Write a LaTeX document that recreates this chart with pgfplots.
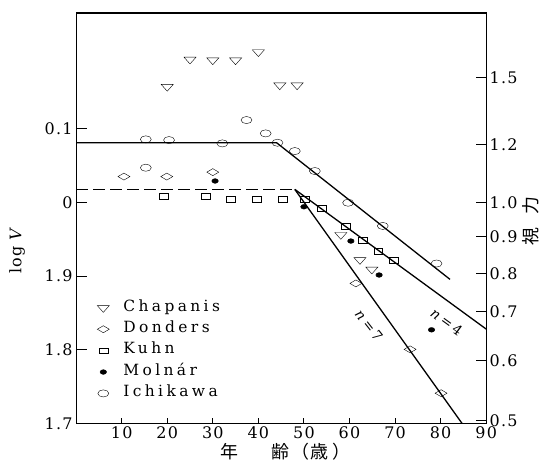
\documentclass[border=0pt]{standalone}
\usepackage{pgfplots}
\pgfplotsset{compat=1.18}
\usepackage{pgfplotstable}
\usepackage{fontspec}
\setmainfont{DejaVu Serif}[LetterSpace=8]
\newfontfamily\legfont{DejaVu Serif}[LetterSpace=22]
\newfontfamily\jp{Noto Sans CJK JP}

\pgfplotstableread{
x y
20 0.157
25 0.194
30 0.193
35 0.193
40 0.204
44.7 0.159
48.5 0.159
58.1 -0.044
62.3 -0.078
64.9 -0.091
}\chapanis
\pgfplotstableread{
x y
10.5 0.035
19.9 0.035
30.0 0.041
61.4 -0.110
73.3 -0.1995
80.1 -0.259
}\donders
\pgfplotstableread{
x y
19.3 0.0085
28.5 0.0085
34.0 0.0045
39.7 0.0045
45.4 0.0045
50.2 0.0045
54.0 -0.008
59.2 -0.032
62.9 -0.051
66.3 -0.066
69.6 -0.078
}\kuhn
\pgfplotstableread{
x y
30.5 0.029
50.0 -0.006
60.3 -0.0525
66.5 -0.0986
78.0 -0.173
}\molnar
\pgfplotstableread{
x y
15.3 0.047
15.3 0.0855
20.4 0.0845
32.1 0.080
37.4 0.1117
41.6 0.0936
44.2 0.0809
48.0 0.0696
52.4 0.0425
59.7 -0.0005
67.3 -0.032
79.1 -0.083
}\ichikawa

\begin{document}
\begin{tikzpicture}[font=\fontsize{16}{18}\selectfont]
\path[use as bounding box] (-76.1bp,-37.6bp) rectangle (483.9bp,423.4bp);
\pgfplotsset{every axis/.append style={at={(0,0)}, anchor=south west, scale only axis,
  width=410.1bp, height=410.4bp, xmin=0, xmax=90, ymin=-0.3, ymax=0.257,
  /pgf/number format/assume math mode=true}}
% left ticks
\begin{axis}[xtick=\empty, ytick={-0.3,-0.2,-0.1,0,0.1},
  yticklabels={1.7,1.8,1.9,0,0.1}, ytick pos=left, tick align=inside,
  major tick length=11bp, axis line style={draw=none}, tick style={line width=1bp, black}]
\end{axis}
% right ticks
\begin{axis}[xtick=\empty, ytick={0.169,0.078,0,-0.047,-0.097,-0.148,-0.215,-0.296},
  yticklabels={1.5,1.2,1.0,0.9,0.8,0.7,0.6,0.5}, ytick pos=right, yticklabel pos=right,
  tick align=inside, major tick length=10bp, axis line style={draw=none},
  tick style={line width=1bp, black}]
\end{axis}
% data axis
\begin{axis}[ytick=\empty, xtick={10,20,...,90}, xtick pos=bottom, tick align=inside,
  major tick length=5bp, tick style={line width=1bp, black},
  axis line style={line width=1.2bp},
  legend cell align=left,
  legend style={draw=none, fill=none, at={(axis cs:3.95,-0.127)}, anchor=north west,
    font=\legfont\fontsize{15.5}{18}\selectfont, row sep=2bp,
    nodes={inner sep=2bp, text height=11bp, text depth=4.4bp},
    /tikz/every odd column/.append style={column sep=12bp}},
  mystyle/.style={only marks, black, mark options={solid, line width=1bp}}]
\addplot[black, line width=1.3bp, forget plot] coordinates {(0,0.0809) (44,0.0809) (82.05,-0.1045)};
\addplot[black, line width=1.3bp, dash pattern=on 12bp off 5bp, forget plot] coordinates {(0,0.0176) (48,0.0176)};
\addplot[black, line width=1.3bp, forget plot] coordinates {(48,0.0176) (90,-0.172)};
\addplot[black, line width=1.3bp, forget plot] coordinates {(48,0.0176) (84.7,-0.3)};
\addplot[mystyle, mark=triangle, mark size=7, mark options={fill=white, rotate=180, yscale=0.65}] table {\chapanis};
\addlegendentry{Chapanis}
\addplot[mystyle, mark=diamond, mark size=6, mark options={fill=white, yscale=0.78, rotate=90}] table {\donders};
\addlegendentry{Donders}
\addplot[mystyle, mark=square, mark size=4.5, mark options={fill=white, yscale=0.65}] table {\kuhn};
\addlegendentry{Kuhn}
\addplot[mystyle, mark=*, mark size=3.3, mark options={fill=black, yscale=0.72}] table {\molnar};
\addlegendentry{Molnár}
\addplot[mystyle, mark=o, mark size=5.5, mark options={fill=white, yscale=0.65}] table {\ichikawa};
\addlegendentry{Ichikawa}
\end{axis}
\node[rotate=-36, font=\fontsize{14}{14}\selectfont] at (370.6bp,101.7bp) {\textit{n}\,=\,4};
\node[rotate=-52, font=\fontsize{14}{14}\selectfont] at (293bp,98bp) {\textit{n}\,=\,7};
\node[font=\jp\fontsize{18}{18}\selectfont, anchor=center] at (209.4bp,-28.6bp) {年\hspace{33bp}齢\hspace{2bp}（\hspace{2bp}歳\hspace{4bp}）};
\node[rotate=90, font=\jp\fontsize{18}{18}\selectfont, anchor=center] at (454.9bp,202.4bp) {視\hspace{14bp}力};
\node[rotate=90, font=\fontsize{16}{16}\selectfont, anchor=center] at (-59.1bp,173.4bp) {log \textit{V}};
\end{tikzpicture}
\end{document}
